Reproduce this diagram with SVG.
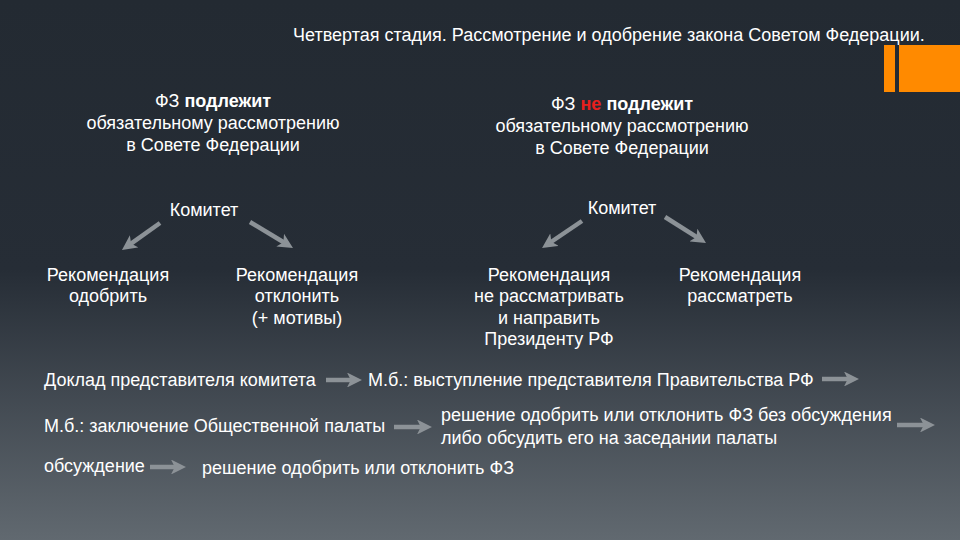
<svg xmlns="http://www.w3.org/2000/svg" width="960" height="540" viewBox="0 0 960 540">
<defs>
<linearGradient id="bg" x1="0" y1="0" x2="0" y2="1">
<stop offset="0" stop-color="#232a32"/>
<stop offset="0.5" stop-color="#262d36"/>
<stop offset="1" stop-color="#616970"/>
</linearGradient>
<marker id="ah" viewBox="0 0 10 10" refX="4" refY="5" markerWidth="3.33" markerHeight="3.33" orient="auto" markerUnits="strokeWidth">
<path d="M0,0 L10,5 L0,10 L2.5,5 z" fill="#8c9297"/>
</marker>
</defs>
<style>
text{font-family:"Liberation Sans",Arial,sans-serif;font-size:18px;fill:#ffffff}
.c{text-anchor:middle}
.b{font-weight:bold}
.red{fill:#e8201e}
.arr{stroke:#8c9297;stroke-width:4.5;fill:none;marker-end:url(#ah)}
</style>
<rect width="960" height="540" fill="url(#bg)"/>
<g id="decor">
<rect x="884" y="45" width="11" height="47" fill="#ff8a00"/>
<rect x="899" y="45" width="61" height="47" fill="#ff8a00"/>
</g>
<g id="title"><text x="293" y="41">Четвертая стадия. Рассмотрение и одобрение закона Советом Федерации.</text></g>
<g id="left-head">
<text class="c" x="213" y="107">ФЗ <tspan class="b">подлежит</tspan></text>
<text class="c" x="213" y="129">обязательному рассмотрению</text>
<text class="c" x="213" y="151">в Совете Федерации</text>
</g>
<g id="right-head">
<text class="c" x="622" y="110">ФЗ <tspan class="b red">не</tspan> <tspan class="b">подлежит</tspan></text>
<text class="c" x="622" y="132">обязательному рассмотрению</text>
<text class="c" x="622" y="154">в Совете Федерации</text>
</g>
<g id="left-committee"><text class="c" x="204" y="216">Комитет</text></g>
<g id="right-committee"><text class="c" x="622" y="214">Комитет</text></g>
<g id="rec1">
<text class="c" x="108" y="281">Рекомендация</text>
<text class="c" x="108" y="302">одобрить</text>
</g>
<g id="rec2">
<text class="c" x="297" y="281">Рекомендация</text>
<text class="c" x="297" y="302">отклонить</text>
<text class="c" x="297" y="324">(+ мотивы)</text>
</g>
<g id="rec3">
<text class="c" x="549" y="281">Рекомендация</text>
<text class="c" x="549" y="302">не рассматривать</text>
<text class="c" x="549" y="324">и направить</text>
<text class="c" x="549" y="345">Президенту РФ</text>
</g>
<g id="rec4">
<text class="c" x="740" y="281">Рекомендация</text>
<text class="c" x="740" y="302">рассматреть</text>
</g>
<g id="flow">
<text x="44" y="386">Доклад представителя комитета</text>
<text x="368" y="386">М.б.: выступление представителя Правительства РФ</text>
<text x="44" y="432">М.б.: заключение Общественной палаты</text>
<text x="441" y="421">решение одобрить или отклонить ФЗ без обсуждения</text>
<text x="441" y="444">либо обсудить его на заседании палаты</text>
<text x="44" y="472">обсуждение</text>
<text x="202" y="474">решение одобрить или отклонить ФЗ</text>
</g>
<g id="connectors">
<line class="arr" x1="160" y1="223" x2="129.3" y2="244.8"/>
<line class="arr" x1="250" y1="222" x2="285.3" y2="243.3"/>
<line class="arr" x1="582" y1="221" x2="549.5" y2="243"/>
<line class="arr" x1="665" y1="217" x2="698.4" y2="238.2"/>
<line class="arr" x1="326" y1="380" x2="353" y2="380"/>
<line class="arr" x1="822" y1="379" x2="850" y2="379"/>
<line class="arr" x1="394" y1="427" x2="423" y2="427"/>
<line class="arr" x1="897" y1="425" x2="926" y2="425"/>
<line class="arr" x1="150" y1="467" x2="177" y2="467"/>
</g>
</svg>
